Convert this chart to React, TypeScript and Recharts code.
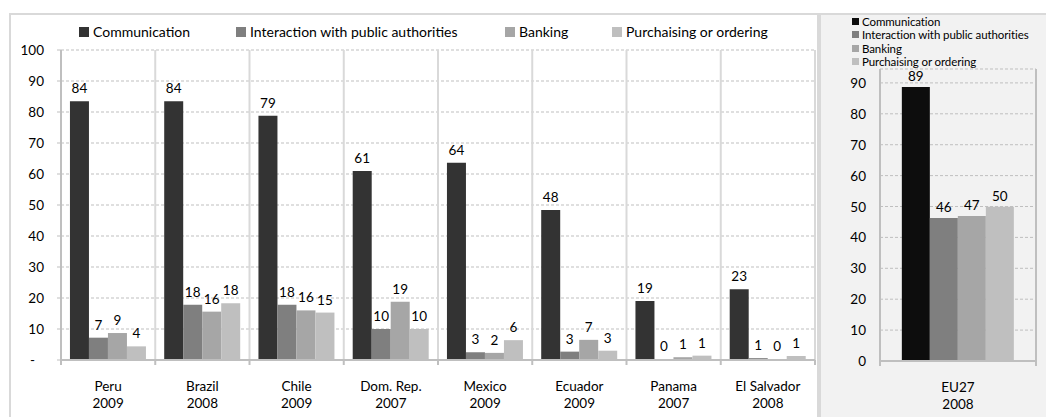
import { BarChart, Bar, XAxis, YAxis, CartesianGrid, LabelList } from "recharts";

const countries = ["Peru", "Brazil", "Chile", "Dom. Rep.", "Mexico", "Ecuador", "Panama", "El Salvador"];
const years = ["2009", "2008", "2009", "2007", "2009", "2009", "2007", "2008"];
const communication = [83.5, 83.5, 78.8, 61.0, 63.6, 48.4, 19.0, 22.8];
const interaction = [7.2, 17.8, 17.8, 10.0, 2.5, 2.7, 0.3, 0.6];
const banking = [8.7, 15.6, 16.0, 18.8, 2.3, 6.5, 0.9, 0.3];
const purchasing = [4.4, 18.3, 15.3, 10.0, 6.4, 3.0, 1.4, 1.3];

const euCountries = ["EU27"];
const euYears = ["2008"];
const euCommunication = [88.7];
const euInteraction = [46.3];
const euBanking = [46.9];
const euPurchasing = [49.9];

const leftTicks = [0, 10, 20, 30, 40, 50, 60, 70, 80, 90, 100];
const euTicks = [0, 10, 20, 30, 40, 50, 60, 70, 80, 90];

const series = [
  { key: "communication", name: "Communication", color: "#333333", euColor: "#0d0d0d" },
  { key: "interaction", name: "Interaction with public authorities", color: "#7f7f7f", euColor: "#7f7f7f" },
  { key: "banking", name: "Banking", color: "#a6a6a6", euColor: "#a6a6a6" },
  { key: "purchasing", name: "Purchaising or ordering", color: "#bfbfbf", euColor: "#bfbfbf" },
];

const data = countries.map((c, i) => ({
  country: c,
  year: years[i],
  communication: communication[i],
  interaction: interaction[i],
  banking: banking[i],
  purchasing: purchasing[i],
}));

const euData = euCountries.map((c, i) => ({
  country: c,
  year: euYears[i],
  communication: euCommunication[i],
  interaction: euInteraction[i],
  banking: euBanking[i],
  purchasing: euPurchasing[i],
}));

const FONT = "Lato, 'Liberation Sans', sans-serif";
const FS = 13.5;
const GRID = "#bfbfbf";
const AXIS = "#bfbfbf";
const DIVIDER = "#d9d9d9";

function CategoryTick({ x, y, payload, index, data, band }: any) {
  const row = data[index] || {};
  const half = payload && payload.offset ? payload.offset : band / 2;
  return (
    <g>
      <line x1={x - half} y1={y} x2={x - half} y2={y + 5} stroke={AXIS} strokeWidth={2} />
      {index === data.length - 1 && (
        <line x1={x + half} y1={y} x2={x + half} y2={y + 5} stroke={AXIS} strokeWidth={2} />
      )}
      <text x={x} y={y + 31} textAnchor="middle" fontSize={FS} fill="#000" fontFamily={FONT}>
        {row.country}
      </text>
      <text x={x} y={y + 48} textAnchor="middle" fontSize={FS} fill="#000" fontFamily={FONT}>
        {row.year}
      </text>
    </g>
  );
}

function ValueTick({ x, y, payload, dash }: any) {
  const v = payload.value;
  if (dash && v === 0) {
    return (
      <text x={x - 9} y={y} dy={5} textAnchor="end" fontSize={FS} fill="#000" fontFamily={FONT}>
        -
      </text>
    );
  }
  return (
    <text x={x} y={y} dy={5} textAnchor="end" fontSize={FS} fill="#000" fontFamily={FONT}>
      {v}
    </text>
  );
}

const boundaries = (n: number) => ({ offset }: any) =>
  Array.from({ length: n + 1 }, (_, i) => offset.left + (i * offset.width) / n);

export default function App() {
  return (
    <div style={{ position: "absolute", left: 0, top: 0, width: 1046, height: 417, background: "#fff", overflow: "hidden", fontFamily: FONT }}>
      {/* left panel frame */}
      <div style={{ position: "absolute", left: 9, top: 13, width: 806, height: 420, borderTop: `2px solid ${DIVIDER}`, borderLeft: `2px solid ${DIVIDER}`, borderRight: `2px solid ${DIVIDER}` }} />
      {/* right panel frame */}
      <div style={{ position: "absolute", left: 819, top: 13, width: 240, height: 420, background: "#f2f2f2", borderTop: `2px solid ${DIVIDER}`, borderLeft: `2px solid ${DIVIDER}` }} />

      {/* left legend */}
      {series.map((s, i) => (
        <div key={s.key} style={{ position: "absolute", left: [79, 236, 505, 612][i], top: 24, display: "flex", alignItems: "center", fontSize: 14, color: "#000", whiteSpace: "nowrap" }}>
          <span style={{ width: 10, height: 10, background: s.color, marginRight: 4, display: "inline-block" }} />
          <span style={{ lineHeight: "16px" }}>{s.name}</span>
        </div>
      ))}

      {/* right legend */}
      {series.map((s, i) => (
        <div key={s.key} style={{ position: "absolute", left: 852, top: 15 + i * 13.3, display: "flex", alignItems: "center", fontSize: 11.5, color: "#000", whiteSpace: "nowrap" }}>
          <span style={{ width: 7, height: 7, background: s.euColor, marginRight: 3, display: "inline-block" }} />
          <span style={{ lineHeight: "13px", letterSpacing: "-0.1px" }}>{s.name}</span>
        </div>
      ))}

      <div style={{ position: "absolute", left: 0, top: 0 }}>
        <BarChart width={816} height={417} data={data} margin={{ top: 50, right: 1, bottom: 0, left: 11 }} barCategoryGap="9.5%" barGap={0}>
          <CartesianGrid vertical={false} stroke={GRID} strokeDasharray="3 2" />
          <CartesianGrid horizontal={false} stroke={DIVIDER} strokeWidth={2} verticalCoordinatesGenerator={boundaries(countries.length)} />
          <XAxis
            dataKey="country"
            height={57}
            interval={0}
            tickSize={0}
            tickMargin={0}
            axisLine={{ stroke: AXIS, strokeWidth: 2 }}
            tickLine={false}
            tick={<CategoryTick data={data} band={754 / countries.length} />}
          />
          <YAxis
            width={50}
            domain={[0, 100]}
            ticks={leftTicks}
            interval={0}
            tickSize={4}
            tickMargin={13}
            axisLine={{ stroke: AXIS, strokeWidth: 2 }}
            tickLine={{ stroke: AXIS }}
            tick={<ValueTick dash />}
          />
          {series.map((s) => (
            <Bar key={s.key} dataKey={s.key} name={s.name} fill={s.color} isAnimationActive={false}>
              <LabelList
                dataKey={s.key}
                position="top"
                offset={8}
                formatter={(v: any) => Math.round(Number(v))}
                style={{ fontSize: FS, fill: "#000", fontFamily: FONT }}
              />
            </Bar>
          ))}
        </BarChart>
      </div>

      <div style={{ position: "absolute", left: 820, top: 0 }}>
        <BarChart width={226} height={417} data={euData} margin={{ top: 69, right: 10, bottom: 0, left: 10 }} barCategoryGap="14%" barGap={0}>
          <CartesianGrid vertical={false} stroke={GRID} strokeDasharray="3 2" />
          <CartesianGrid horizontal={false} stroke={AXIS} strokeWidth={2} verticalCoordinatesGenerator={boundaries(euCountries.length)} />
          <XAxis
            dataKey="country"
            height={56}
            interval={0}
            tickSize={0}
            tickMargin={0}
            axisLine={{ stroke: AXIS, strokeWidth: 2 }}
            tickLine={false}
            tick={<CategoryTick data={euData} band={156} />}
          />
          <YAxis
            width={50}
            domain={[0, 94.5]}
            ticks={euTicks}
            interval={0}
            tickSize={0}
            tickMargin={14}
            axisLine={{ stroke: AXIS, strokeWidth: 2 }}
            tickLine={false}
            tick={<ValueTick />}
          />
          {series.map((s) => (
            <Bar key={s.key} dataKey={s.key} name={s.name} fill={s.euColor} isAnimationActive={false}>
              <LabelList
                dataKey={s.key}
                position="top"
                offset={6}
                formatter={(v: any) => Math.round(Number(v))}
                style={{ fontSize: FS, fill: "#000", fontFamily: FONT }}
              />
            </Bar>
          ))}
        </BarChart>
      </div>
    </div>
  );
}
